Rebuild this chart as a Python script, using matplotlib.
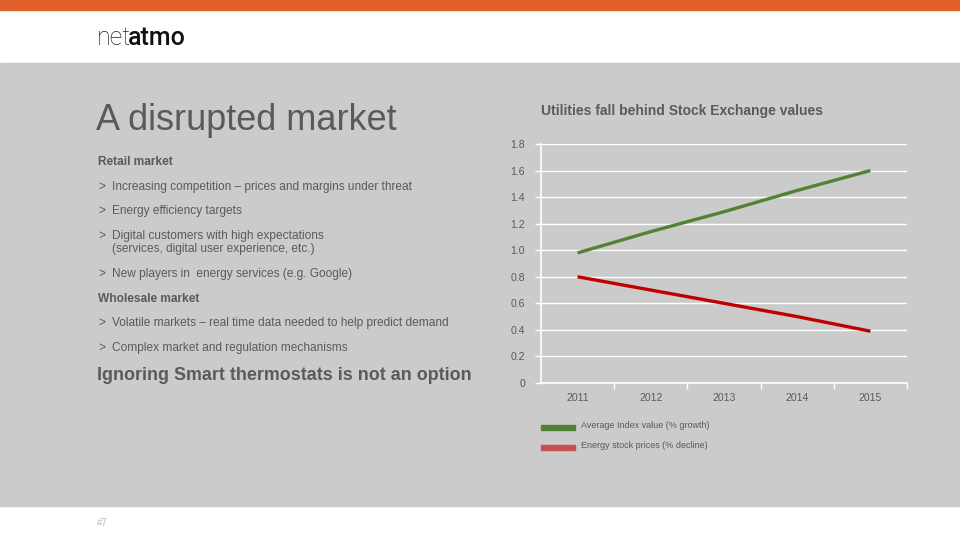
import matplotlib
matplotlib.use("Agg")
import matplotlib.pyplot as plt
from matplotlib.patches import Rectangle

plt.rcParams['font.family'] = ['Liberation Sans', 'DejaVu Sans']

years = ["2011", "2012", "2013", "2014", "2015"]
index_growth = [0.98, 1.14, 1.29, 1.45, 1.60]
energy_decline = [0.80, 0.70, 0.60, 0.50, 0.39]
y_ticks = [0, 0.2, 0.4, 0.6, 0.8, 1.0, 1.2, 1.4, 1.6, 1.8]
y_labels = ["0", "0.2", "0.4", "0.6", "0.8", "1.0", "1.2", "1.4", "1.6", "1.8"]
series_names = ["Average Index value (% growth)", "Energy stock prices (% decline)"]

ORANGE = "#E0622A"
BG = "#CBCBCB"
TXT = "#5A5A5A"
GREEN = "#548235"
RED = "#C00000"
RED_LEG = "#C9504F"

W, H = 960, 540
fig = plt.figure(figsize=(9.6, 5.4), dpi=100)
fig.patch.set_facecolor("white")


def px(x, y):
    return x / W, 1 - y / H


# page bands
fig.patches.append(Rectangle((0, 1 - 10 / H), 1, 10 / H, transform=fig.transFigure,
                             color=ORANGE, zorder=0))
fig.patches.append(Rectangle((0, 1 - 506 / H), 1, 443 / H, transform=fig.transFigure,
                             color=BG, zorder=0))

# logo
fig.text(*px(97, 38), "net", fontsize=18, family="Roboto", fontweight="light",
         color="#222222", va="center", ha="left")
fig.text(*px(128, 38), "atmo", fontsize=18, family="Roboto", fontweight="medium",
         color="#111111", va="center", ha="left")

# footer
fig.text(*px(97, 523), "#7", fontsize=7, color="#BBBBBB", va="center", ha="left")

# left column
fig.text(*px(96, 130), "A disrupted market", fontsize=26, color=TXT, va="baseline")
body = [
    (162, None, "Retail market", True),
    (187, ">", "Increasing competition \u2013 prices and margins under threat", False),
    (211, ">", "Energy efficiency targets", False),
    (236, ">", "Digital customers with high expectations", False),
    (249, None, "(services, digital user experience, etc.)", False),
    (274, ">", "New players in  energy services (e.g. Google)", False),
    (299, None, "Wholesale market", True),
    (323, ">", "Volatile markets \u2013 real time data needed to help predict demand", False),
    (348, ">", "Complex market and regulation mechanisms", False),
]
for y, bullet, text, bold in body:
    if bullet:
        fig.text(*px(98, y), bullet, fontsize=8.6, color=TXT, va="center")
    x = 98 if bold else 112
    fig.text(*px(x, y), text, fontsize=8.6, color=TXT, va="center",
             fontweight="bold" if bold else "normal")
fig.text(*px(97, 376), "Ignoring Smart thermostats is not an option", fontsize=12.9,
         color=TXT, fontweight="bold", va="center")

# chart
ax = fig.add_axes([541 / W, 1 - 383 / H, 366 / W, 239 / H])
ax.set_zorder(3)
ax.set_facecolor("none")
x = range(len(years))
ax.plot(x, index_growth, color=GREEN, lw=2.4, solid_capstyle="butt")
ax.plot(x, energy_decline, color=RED, lw=2.4, solid_capstyle="butt")
ax.set_xlim(-0.5, len(years) - 0.5)
ax.set_ylim(0, 1.8)
ax.set_yticks(y_ticks)
ax.set_yticklabels(y_labels)
ax.set_xticks(list(x))
ax.set_xticklabels(years)
ax.set_xticks([i - 0.5 for i in range(1, len(years) + 1)], minor=True)
ax.grid(axis="y", color="white", lw=1)
ax.set_axisbelow(True)
for s in ["top", "right"]:
    ax.spines[s].set_visible(False)
for s in ["left", "bottom"]:
    ax.spines[s].set_color("white")
    ax.spines[s].set_linewidth(1.2)
ax.tick_params(axis="y", colors="white", labelcolor=TXT, labelsize=7.6, length=4.5,
               width=1, pad=7)
ax.tick_params(axis="x", which="major", length=0, labelcolor=TXT, labelsize=7.6, pad=7)
ax.tick_params(axis="x", which="minor", colors="white", length=4.5, width=1)

fig.text(*px(541, 111), "Utilities fall behind Stock Exchange values", fontsize=10,
         fontweight="bold", color=TXT, va="center")

# legend
for y, col, name in [(427, GREEN, series_names[0]), (447, RED_LEG, series_names[1])]:
    fig.patches.append(Rectangle((541 / W, 1 - (y + 2.5) / H), 34 / W, 5 / H,
                                 transform=fig.transFigure, color=col, zorder=2))
    fig.text(*px(581, y - 1), name, fontsize=6.5, color=TXT, va="center")

fig.savefig("out.png", dpi=100, facecolor=fig.get_facecolor())
